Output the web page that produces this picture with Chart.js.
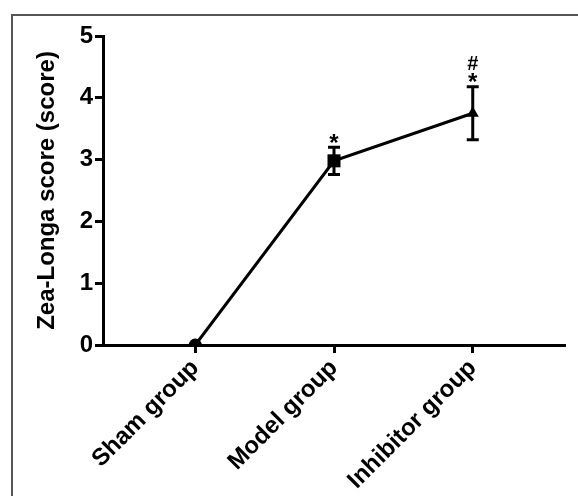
<!DOCTYPE html>
<html>
<head>
<meta charset="utf-8">
<script src="https://cdn.jsdelivr.net/npm/chart.js@4.4.1/dist/chart.umd.min.js"></script>
<style>
  html, body { margin:0; padding:0; background:#fff; }
  #wrap { position:relative; width:578px; height:496px; }
  #frame { position:absolute; left:11px; top:14px; right:-5px; bottom:-5px; border-top:2px solid #555; border-left:2px solid #555; pointer-events:none; }
  canvas { position:absolute; left:0; top:0; }
</style>
</head>
<body>
<div id="wrap">
  <canvas id="chart" width="578" height="496"></canvas>
  <div id="frame"></div>
</div>
<script>
const groups = ['Sham group', 'Model group', 'Inhibitor group'];
const scores = [0, 2.98, 3.75];
const errors = [0, 0.22, 0.43];
// significance marks above each error bar, bottom first
const marks = [[], ['*'], ['*', '#']];
const markers = ['circle', 'rect', 'triangle'];
const yTicks = [0, 1, 2, 3, 4, 5];

const FONT = 'Arial, "Liberation Sans", sans-serif';

const errorBars = {
  id: 'errorBars',
  afterDatasetsDraw(chart){
    const {ctx, scales:{x, y}} = chart;
    ctx.save();
    ctx.strokeStyle = '#000';
    ctx.lineWidth = 3;
    scores.forEach((v, i) => {
      const e = errors[i];
      if(!e) return;
      const px = x.getPixelForValue(i + 1);
      const top = y.getPixelForValue(v + e), bot = y.getPixelForValue(v - e);
      ctx.beginPath();
      ctx.moveTo(px, top); ctx.lineTo(px, bot);
      ctx.moveTo(px - 6, top); ctx.lineTo(px + 6, top);
      ctx.moveTo(px - 6, bot); ctx.lineTo(px + 6, bot);
      ctx.stroke();
    });
    ctx.fillStyle = '#000';
    ctx.textAlign = 'center';
    ctx.textBaseline = 'alphabetic';
    marks.forEach((list, i) => {
      const px = x.getPixelForValue(i + 1);
      const top = y.getPixelForValue(scores[i] + errors[i]);
      list.forEach(t => {
        ctx.font = (t === '*' ? 'bold 24px ' : 'bold 20px ') + FONT;
        const m = ctx.measureText(t);
        const off = t === '*' ? 9 : 24;   // glyph centre above bar top
        const base = top - off - (m.actualBoundingBoxDescent - m.actualBoundingBoxAscent) / 2;
        ctx.fillText(t, px, base);
      });
    });
    ctx.restore();
  }
};

new Chart(document.getElementById('chart'), {
  type: 'line',
  data: {
    datasets: [{
      data: scores.map((v, i) => ({ x: i + 1, y: v })),
      borderColor: '#000',
      backgroundColor: '#000',
      borderWidth: 3,
      pointStyle: markers,
      pointRadius: [6.5, 9.2, 7],
      pointBackgroundColor: '#000',
      pointBorderColor: '#000',
      pointBorderWidth: 0,
      tension: 0
    }]
  },
  options: {
    responsive: false,
    animation: false,
    events: [],
    layout: { padding: { top: 36, right: 13, left: 0, bottom: 0 } },
    plugins: { legend: { display: false }, tooltip: { enabled: false } },
    scales: {
      x: {
        type: 'linear',
        min: 0.335,
        max: 3.665,
        afterBuildTicks: s => { s.ticks = groups.map((g, i) => ({ value: i + 1 })); },
        afterFit: s => { s.height = 151; },
        border: { display: true, color: '#000', width: 3 },
        grid: { drawOnChartArea: false, drawTicks: true, tickLength: 8, tickWidth: 3, tickColor: '#000' },
        ticks: {
          autoSkip: false,
          minRotation: 45,
          maxRotation: 45,
          padding: 1,
          color: '#000',
          font: { family: FONT, size: 24, weight: 'bold' },
          callback: v => groups[v - 1] || ''
        }
      },
      y: {
        min: 0,
        max: 5,
        afterBuildTicks: s => { s.ticks = yTicks.map(v => ({ value: v })); },
        afterFit: s => { s.width = 103; },
        border: { display: true, color: '#000', width: 3 },
        grid: { drawOnChartArea: false, drawTicks: true, tickLength: 8, tickWidth: 3, tickColor: '#000' },
        ticks: {
          padding: 2,
          color: '#000',
          font: { family: FONT, size: 24, weight: 'bold' }
        },
        title: {
          display: true,
          text: 'Zea-Longa score (score)',
          color: '#000',
          font: { family: FONT, size: 24, weight: 'bold' },
          padding: { top: 33, bottom: 0 }
        }
      }
    }
  },
  plugins: [errorBars]
});
</script>
</body>
</html>
